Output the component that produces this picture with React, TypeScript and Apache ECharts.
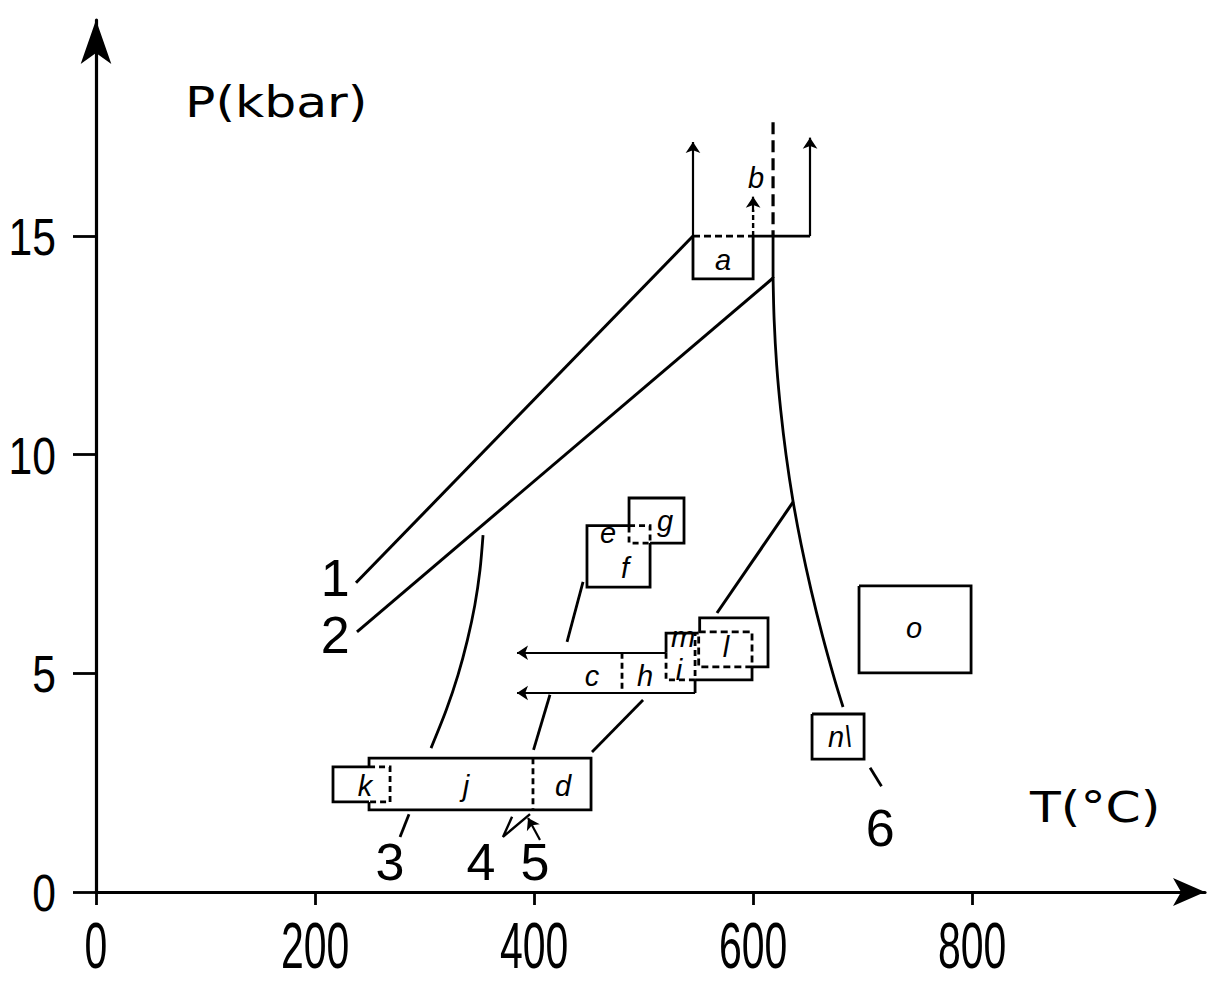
import React, { useEffect, useRef } from 'react';
import * as echarts from 'echarts';

type Pt = [number, number];

// Axis ticks
const T_TICKS = [0, 200, 400, 600, 800];
const P_TICKS = [0, 5, 10, 15];

// Reaction / path lines (T °C, P kbar)
const line1: Pt[] = [[237.4, 7.07], [545.1, 15.0]];
const line1TopDashed: Pt[] = [[545.1, 15.0], [600, 15.0]];
const line1TopSolid: Pt[] = [[600, 15.0], [652, 15.0]];
const line2: Pt[] = [[238.3, 5.95], [618.2, 14.04]];
const line3: Pt[] = [[353.4, 8.16], [350.6, 7.36], [345.9, 6.56], [339.1, 5.76], [330.5, 4.96], [319.8, 4.16], [305.9, 3.29]];
const line3Tail: Pt[] = [[285.8, 1.78], [277.6, 1.26]];
const line4Upper: Pt[] = [[444.7, 7.09], [430.1, 5.72]];
const line4Lower: Pt[] = [[414.5, 4.51], [399.5, 3.25]];
const mark4: Pt[] = [[379.9, 1.72], [371.6, 1.26], [396.3, 1.78]];
const line5: Pt[] = [[499.5, 4.39], [452.9, 3.2]];
const branch: Pt[] = [[636.6, 8.92], [567.0, 6.38]];
const line6Dashed: Pt[] = [[618.2, 17.6], [618.2, 15.0]];
const line6Stub: Pt[] = [[618.2, 15.0], [618.2, 14.04]];
const line6: Pt[] = [
  [618.2, 14.06], [619.2, 13.08], [621.5, 12.05], [625.2, 11.02], [630.1, 9.99], [636.3, 8.96],
  [643.9, 7.94], [652.9, 6.91], [663.1, 5.88], [674.5, 4.85], [682.1, 4.23],
];
const line6Tail: Pt[] = [[706.8, 2.84], [717.2, 2.42]];

// Arrows
const arrowLeftUp: Pt[] = [[545.1, 15.0], [545.1, 17.15]];
const arrowRightUp: Pt[] = [[652, 15.0], [652, 17.25]];
const arrowBDashed: Pt[] = [[600, 15.0], [600, 15.6]];
const arrowBHead: Pt[] = [[600, 15.55], [600, 15.9]];
const arrowCTop: Pt[] = [[520.5, 5.47], [384.4, 5.47]];
const arrowCBottom: Pt[] = [[547, 4.55], [384.4, 4.55]];
const arrow5: Pt[] = [[405.4, 1.19], [394.5, 1.69]];

// Boxes (solid)
const boxA: Pt[] = [[545.1, 15.0], [545.1, 14.02], [600, 14.02], [600, 15.0]];
const boxO: Pt[] = [[696.7, 7.0], [799, 7.0], [799, 5.01], [696.7, 5.01], [696.7, 7.0]];
const boxN: Pt[] = [[653.8, 4.07], [701.3, 4.07], [701.3, 3.04], [653.8, 3.04], [653.8, 4.07]];
const boxEF: Pt[] = [[505.9, 7.98], [505.9, 6.97], [448.3, 6.97], [448.3, 8.38], [486.7, 8.38]];
const boxG: Pt[] = [[486.7, 8.38], [486.7, 9.01], [536.9, 9.01], [536.9, 7.98], [505.9, 7.98]];
const hRight: Pt[] = [[547, 4.55], [547, 4.85]];
const mSolid: Pt[] = [[520.5, 5.47], [520.5, 5.92], [550.3, 5.92]];
const lSolid: Pt[] = [[551.2, 5.95], [551.2, 6.27], [613.6, 6.27], [613.6, 5.15], [599, 5.15]];
const lLower: Pt[] = [[547, 4.85], [599, 4.85], [599, 5.15]];
const boxJ: Pt[] = [[249.3, 2.86], [249.3, 3.06], [452, 3.06], [452, 1.88], [249.3, 1.88], [249.3, 2.06]];
const boxK: Pt[] = [[249.3, 2.86], [216.4, 2.86], [216.4, 2.06], [249.3, 2.06]];

// Boxes (dashed)
const boxEGDashed: Pt[] = [[486.7, 8.38], [505.9, 8.38], [505.9, 7.98], [486.7, 7.98], [486.7, 8.38]];
const chDivider: Pt[] = [[480.3, 5.47], [480.3, 4.55]];
const iDashed: Pt[] = [[520.5, 5.47], [520.5, 4.85], [547, 4.85], [547, 5.92]];
const lDashed: Pt[] = [[550.3, 5.95], [599, 5.95], [599, 5.15], [550.3, 5.15], [550.3, 5.95]];
const kDashed: Pt[] = [[249.3, 2.86], [268.5, 2.86], [268.5, 2.06], [249.3, 2.06]];
const jdDivider: Pt[] = [[399, 3.06], [399, 1.88]];

// Labels
const letterNames = ['a', 'b', 'c', 'd', 'e', 'f', 'g', 'h', 'i', 'j', 'k', 'l', 'm', 'n\\', 'o'];
const letterPos: Pt[] = [
  [572.5, 14.45], [602.7, 16.33], [452.9, 4.94], [426.5, 2.42], [467.5, 8.21],
  [483, 7.41], [519.6, 8.48], [501.3, 4.94], [532.3, 5.07], [337.9, 2.42],
  [245.6, 2.42], [575.3, 5.6], [536, 5.82], [679.4, 3.54], [747, 6.04],
];
const numberNames = ['1', '2', '3', '4', '5', '6'];
const numberPos: Pt[] = [[218.3, 7.18], [218.3, 5.88], [268.5, 0.69], [351.6, 0.69], [400.9, 0.69], [716, 1.46]];

const INK = '#000';
const SANS = '"Liberation Sans", Arial, sans-serif';

function poly(data: Pt[], opts: { dashed?: number[]; smooth?: number; width?: number } = {}) {
  return {
    type: 'line',
    data,
    showSymbol: false,
    symbol: 'none',
    smooth: opts.smooth ?? false,
    silent: true,
    clip: false,
    lineStyle: {
      color: INK,
      width: opts.width ?? 2.8,
      type: opts.dashed ?? 'solid',
      cap: 'butt',
      join: 'miter',
    },
  };
}

function arrows(list: Pt[][], size = 12) {
  return {
    type: 'lines',
    coordinateSystem: 'cartesian2d',
    polyline: false,
    silent: true,
    symbol: ['none', 'arrow'],
    symbolSize: [0, size],
    lineStyle: { color: INK, width: 2.2, opacity: 1, curveness: 0 },
    itemStyle: { color: INK },
    data: list.map((coords) => ({ coords })),
  };
}

function labels(names: string[], pos: Pt[], style: any) {
  return {
    type: 'scatter',
    symbol: 'circle',
    symbolSize: 0,
    silent: true,
    itemStyle: { color: INK, opacity: 1 },
    data: names.map((name, i) => ({ name, value: pos[i] })),
    label: {
      show: true,
      position: 'inside',
      formatter: '{b}',
      color: INK,
      opacity: 1,
      textBorderWidth: 0,
      ...style,
    },
  };
}

export default function App() {
  const ref = useRef<HTMLDivElement>(null);
  useEffect(() => {
    const chart = echarts.init(ref.current!, null, { renderer: 'svg' });
    const option: any = {
      animation: false,
      backgroundColor: '#fff',
      grid: { left: 96, right: 16, top: 20, bottom: 93, containLabel: false },
      xAxis: {
        type: 'value',
        min: 0,
        max: 1012.6,
        interval: 200,
        axisLine: {
          show: true,
          onZero: false,
          symbol: ['none', 'arrow'],
          symbolSize: [21, 32],
          lineStyle: { color: INK, width: 3.2 },
        },
        axisTick: { show: true, length: 13, customValues: T_TICKS, lineStyle: { color: INK, width: 2.8 } },
        axisLabel: { show: false },
        splitLine: { show: false },
      },
      yAxis: {
        type: 'value',
        min: 0,
        max: 19.94,
        interval: 5,
        axisLine: {
          show: true,
          onZero: false,
          symbol: ['none', 'arrow'],
          symbolSize: [23, 44],
          lineStyle: { color: INK, width: 3.2 },
        },
        axisTick: { show: true, length: 23, customValues: P_TICKS, lineStyle: { color: INK, width: 2.8 } },
        axisLabel: { show: false },
        splitLine: { show: false },
      },
      series: [
        poly(line1, { width: 3 }),
        poly(line1TopDashed, { dashed: [7, 4] }),
        poly(line1TopSolid),
        poly(line2, { width: 3 }),
        poly(line3, { smooth: 0.3 }),
        poly(line3Tail),
        poly(line4Upper),
        poly(line4Lower),
        poly(mark4, { width: 2.4 }),
        poly(line5),
        poly(branch, { width: 3 }),
        poly(line6Dashed, { dashed: [12, 6], width: 3.2 }),
        poly(line6Stub),
        poly(line6, { smooth: 0.3 }),
        poly(line6Tail),
        poly(arrowBDashed, { dashed: [5, 3], width: 2.4 }),
        poly(boxA),
        poly(boxO),
        poly(boxN),
        poly(boxEF),
        poly(boxG),
        poly(hRight),
        poly(mSolid),
        poly(lSolid),
        poly(lLower),
        poly(boxJ),
        poly(boxK),
        poly(boxEGDashed, { dashed: [6, 4] }),
        poly(chDivider, { dashed: [6, 4] }),
        poly(iDashed, { dashed: [6, 4] }),
        poly(lDashed, { dashed: [7, 4] }),
        poly(kDashed, { dashed: [6, 4] }),
        poly(jdDivider, { dashed: [6, 4] }),
        arrows([arrowLeftUp, arrowRightUp, arrowBHead, arrowCTop, arrowCBottom, arrow5], 11),
        labels(letterNames, letterPos, {
          fontSize: 29,
          lineHeight: 22,
          fontStyle: 'italic',
          fontFamily: SANS,
        }),
        labels(numberNames, numberPos, {
          fontSize: 52,
          lineHeight: 44,
          fontFamily: SANS,
        }),
      ],
    };
    chart.setOption(option);

    // Tick labels placed through the axes' own scales (condensed, like the original lettering)
    const xLabelEls = T_TICKS.map((v) => {
      const [px, py] = chart.convertToPixel({ gridIndex: 0 } as any, [v, 0]) as number[];
      return {
        type: 'text',
        x: px,
        y: py + 53,
        scaleX: 0.64,
        silent: true,
        style: {
          text: String(v),
          fill: INK,
          fontSize: 64,
          fontFamily: SANS,
          textAlign: 'center',
          textVerticalAlign: 'middle',
        },
      };
    });
    const yLabelEls = P_TICKS.map((v) => {
      const [px, py] = chart.convertToPixel({ gridIndex: 0 } as any, [0, v]) as number[];
      return {
        type: 'text',
        x: px - 40,
        y: py + 1,
        scaleX: 0.82,
        silent: true,
        style: {
          text: String(v),
          fill: INK,
          fontSize: 52,
          fontFamily: SANS,
          textAlign: 'right',
          textVerticalAlign: 'middle',
        },
      };
    });
    chart.setOption({
      graphic: [
        {
          type: 'text',
          x: 185,
          y: 103,
          scaleX: 1.2,
          silent: true,
          style: {
            text: 'P(kbar)',
            fill: INK,
            fontSize: 42,
            fontFamily: '"DejaVu Sans", sans-serif',
            textAlign: 'left',
            textVerticalAlign: 'middle',
          },
        },
        {
          type: 'text',
          x: 1030,
          y: 808,
          scaleX: 1.2,
          silent: true,
          style: {
            text: 'T(°C)',
            fill: INK,
            fontSize: 42,
            fontFamily: '"DejaVu Sans", sans-serif',
            textAlign: 'left',
            textVerticalAlign: 'middle',
          },
        },
        ...xLabelEls,
        ...yLabelEls,
      ],
    });
    return () => chart.dispose();
  }, []);
  return (
    <div
      ref={ref}
      style={{ position: 'absolute', left: 0, top: 0, width: 1221, height: 985, background: '#fff' }}
    />
  );
}
